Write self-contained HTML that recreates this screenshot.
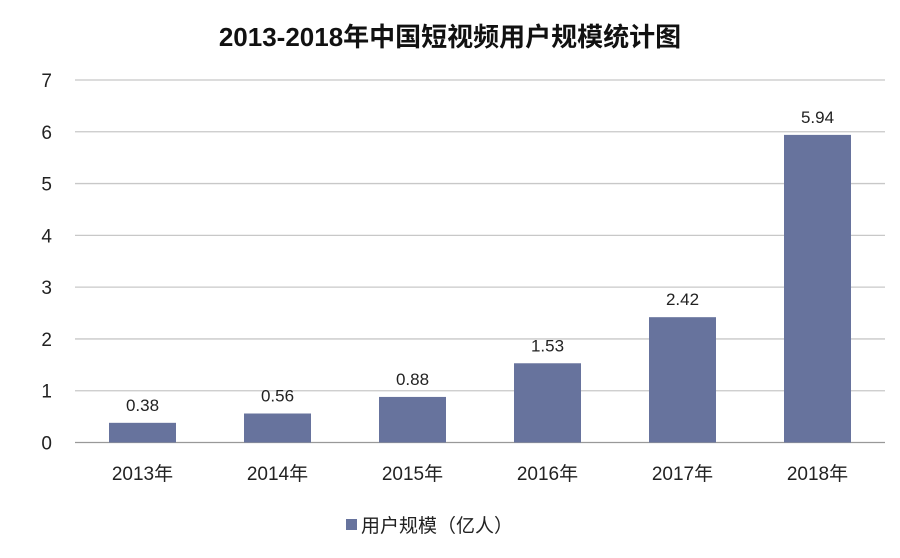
<!DOCTYPE html>
<html><head><meta charset="utf-8"><style>
body{margin:0;background:#fff;}
svg text{font-family:"Liberation Sans","Noto Sans CJK SC",sans-serif;}
</style></head><body>
<svg width="900" height="553" id="c">
<text x="450" y="46" text-anchor="middle" font-size="26" font-weight="bold" fill="#111">2013-2018年中国短视频用户规模统计图</text>
<g id="grid"></g><g id="bars"></g>
<g>
<rect x="346" y="519" width="11" height="11" fill="#67739d"></rect>
<text x="361" y="532" font-size="19" fill="#222">用户规模（亿人）</text>
</g>
</svg>
<script>
const categories=["2013年","2014年","2015年","2016年","2017年","2018年"];
const values=[0.38,0.56,0.88,1.53,2.42,5.94];
const yTicks=[0,1,2,3,4,5,6,7];
const NS="http://www.w3.org/2000/svg";
const x0=75,x1=885,yBase=442.5,yTop=80,yMax=7;
const y=v=>yBase-(yBase-yTop)*v/yMax;
const band=(x1-x0)/categories.length;
const g=document.getElementById('grid'),b=document.getElementById('bars');
function mk(t,a,p,txt){const e=document.createElementNS(NS,t);for(const k in a)e.setAttribute(k,a[k]);if(txt!=null)e.textContent=txt;p.appendChild(e);return e;}
yTicks.forEach(t=>{
 const l=mk('line',{x1:x0,x2:x1,y1:y(t),y2:y(t),stroke:t===0?'#999':'#c8c8c8','stroke-width':1.3},g);
 
 
 const tx=mk('text',{x:52,y:y(t)+7,'text-anchor':'end','font-size':19,fill:'#222'},g,t);
 
 
});
categories.forEach((c,i)=>{
 const cx=x0+band*(i+0.5),w=67;
 const r=mk('rect',{x:cx-w/2,y:y(values[i]),width:w,height:yBase-y(values[i]),fill:'#67739d'},b);
 
 
 const v=mk('text',{x:cx,y:y(values[i])-12,'text-anchor':'middle','font-size':17,fill:'#222'},b,values[i].toFixed(2));
 
 
 const xl=mk('text',{x:cx,y:480,'text-anchor':'middle','font-size':19,fill:'#222'},b,c);
 
 
});
</script>
</body></html>
